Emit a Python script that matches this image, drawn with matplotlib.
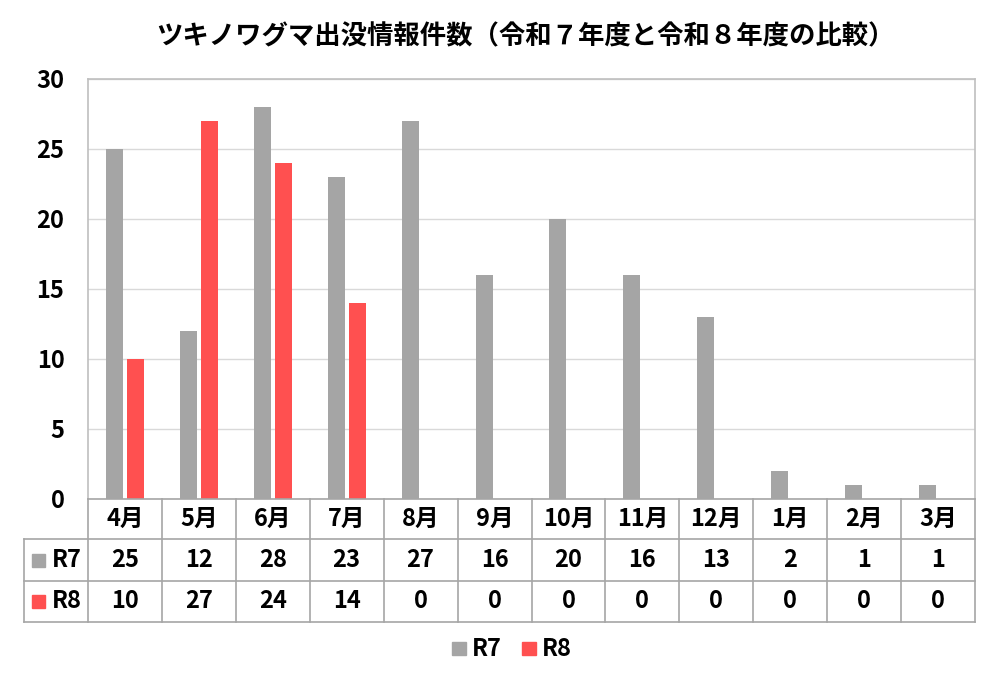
import matplotlib
matplotlib.use("Agg")
import matplotlib.pyplot as plt
import matplotlib.transforms as mtransforms
from matplotlib.lines import Line2D
from matplotlib.patches import Rectangle
import numpy as np

plt.rcParams['font.family'] = ['Noto Sans CJK JP', 'DejaVu Sans']

# data
months = ['4月', '5月', '6月', '7月', '8月', '9月', '10月', '11月', '12月', '1月', '2月', '3月']
r7 = [25, 12, 28, 23, 27, 16, 20, 16, 13, 2, 1, 1]
r8 = [10, 27, 24, 14, 0, 0, 0, 0, 0, 0, 0, 0]
series_names = ['R7', 'R8']
colors = ['#a5a5a5', '#ff5050']
title = 'ツキノワグマ出没情報件数（令和７年度と令和８年度の比較）'

W, H = 990, 676
def fx(px):
    return px / W
def fy(py):
    return 1 - py / H

fig = plt.figure(figsize=(9.9, 6.76), dpi=100)
ax = fig.add_axes([fx(88), fy(499), fx(975) - fx(88), fy(79) - fy(499)])

x = np.arange(len(months))
bw = 0.23
off = 0.142
ax.bar(x - off, r7, bw, color=colors[0], zorder=3)
ax.bar(x + off, r8, bw, color=colors[1], zorder=3)

ax.set_xlim(-0.5, len(months) - 0.5)
ax.set_ylim(0, 30)
ax.set_yticks(range(0, 31, 5))
ax.grid(axis='y', color='#d9d9d9', linewidth=1, zorder=0)
ax.set_xticks([])
ax.tick_params(axis='y', length=0, pad=17, labelsize=17)
for lab in ax.get_yticklabels():
    lab.set_fontweight('bold')
for s in ax.spines.values():
    s.set_color('#bfbfbf')
    s.set_linewidth(1.2)
ax.spines['bottom'].set_visible(False)

fig.text(fx(525), fy(37), title, ha='center', va='center', fontsize=19, fontweight='bold')

# data table below the chart
tcol = mtransforms.blended_transform_factory(ax.transData, fig.transFigure)
line_c = '#a6a6a6'
rows_y = [499, 539, 581, 622]
for i, yy in enumerate(rows_y):
    x0 = fx(88) if i == 0 else fx(24)
    fig.add_artist(Line2D([x0, fx(975)], [fy(yy), fy(yy)], color=line_c, lw=1.2))
for k in range(len(months) + 1):
    fig.add_artist(Line2D([k - 0.5, k - 0.5], [fy(499), fy(622)], color=line_c, lw=1.2,
                          transform=tcol))
fig.add_artist(Line2D([fx(24), fx(24)], [fy(539), fy(622)], color=line_c, lw=1.2))

tkw = dict(ha='center', va='center', fontsize=17, fontweight='bold', transform=tcol)
for k, m in enumerate(months):
    fig.text(k, fy(519), m, **tkw)
    fig.text(k, fy(560), str(r7[k]), **tkw)
    fig.text(k, fy(601), str(r8[k]), **tkw)

for name, c, yy in zip(series_names, colors, [560, 601]):
    fig.add_artist(Rectangle((fx(32), fy(yy + 7)), fx(13), fy(yy - 6) - fy(yy + 7),
                             color=c, transform=fig.transFigure))
    fig.text(fx(52), fy(yy), name, ha='left', va='center', fontsize=17, fontweight='bold')

# legend
for name, c, x0 in zip(series_names, colors, [452, 522]):
    fig.add_artist(Rectangle((fx(x0), fy(655)), fx(14), fy(642) - fy(655),
                             color=c, transform=fig.transFigure))
    fig.text(fx(x0 + 20), fy(649), name, ha='left', va='center', fontsize=17, fontweight='bold')

fig.savefig('out.png', dpi=100)
